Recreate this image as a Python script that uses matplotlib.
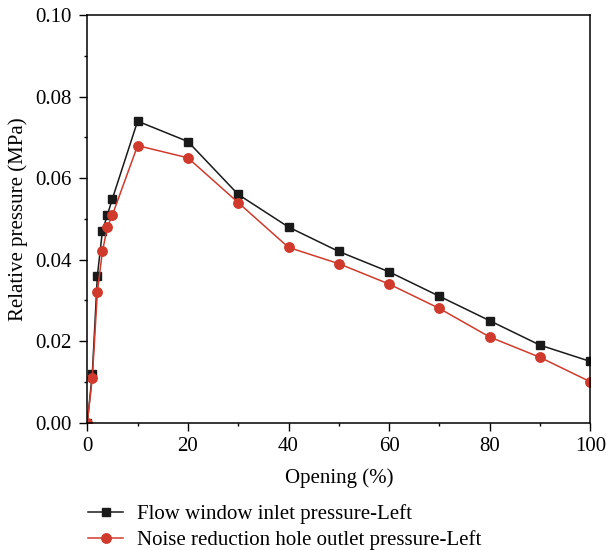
import matplotlib
matplotlib.use("Agg")
import matplotlib.pyplot as plt
from matplotlib.ticker import MultipleLocator, FormatStrFormatter

opening = [0, 1, 2, 3, 4, 5, 10, 20, 30, 40, 50, 60, 70, 80, 90, 100]
inlet = [0.0, 0.012, 0.036, 0.047, 0.051, 0.055, 0.074, 0.069, 0.056, 0.048, 0.042, 0.037, 0.031, 0.025, 0.019, 0.015]
outlet = [0.0, 0.011, 0.032, 0.042, 0.048, 0.051, 0.068, 0.065, 0.054, 0.043, 0.039, 0.034, 0.028, 0.021, 0.016, 0.010]

plt.rcParams['font.family'] = ['Liberation Serif', 'DejaVu Serif']
fs = 15
W, H = 607, 550

fig = plt.figure(figsize=(W / 100, H / 100), dpi=100)
ax = fig.add_axes([87.3 / W, 1 - 422.5 / H, (590.3 - 87.3) / W, (422.5 - 15.3) / H])

ax.plot(opening, inlet, color='#1a1a1a', marker='s', markersize=6.2, linewidth=1.1,
        label='Flow window inlet pressure-Left')
ax.plot(opening, outlet, color='#d03a2c', marker='o', markersize=6.8, linewidth=1.1,
        label='Noise reduction hole outlet pressure-Left')

ax.set_xlim(0, 100)
ax.set_ylim(0, 0.10)
ax.xaxis.set_major_locator(MultipleLocator(20))
ax.xaxis.set_minor_locator(MultipleLocator(10))
ax.yaxis.set_major_locator(MultipleLocator(0.02))
ax.yaxis.set_minor_locator(MultipleLocator(0.01))
ax.yaxis.set_major_formatter(FormatStrFormatter('%.2f'))
ax.tick_params(which='major', direction='out', length=5.5, width=1, labelsize=fs)
ax.tick_params(which='minor', direction='out', length=2.5, width=1)
ax.tick_params(axis='x', which='major', pad=5)
ax.tick_params(axis='y', which='major', pad=6)
for s in ax.spines.values():
    s.set_linewidth(1.1)

ax.set_xlabel('Opening (%)', fontsize=fs, labelpad=8.5)
ax.set_ylabel('Relative pressure (MPa)', fontsize=fs, labelpad=5)

leg = fig.legend(loc='upper left', bbox_to_anchor=(80 / W, 1 - 496 / H), frameon=False,
                 fontsize=fs, handlelength=1.65, handletextpad=0.7, labelspacing=0.3,
                 borderaxespad=0)

fig.savefig('out.png', dpi=100)
